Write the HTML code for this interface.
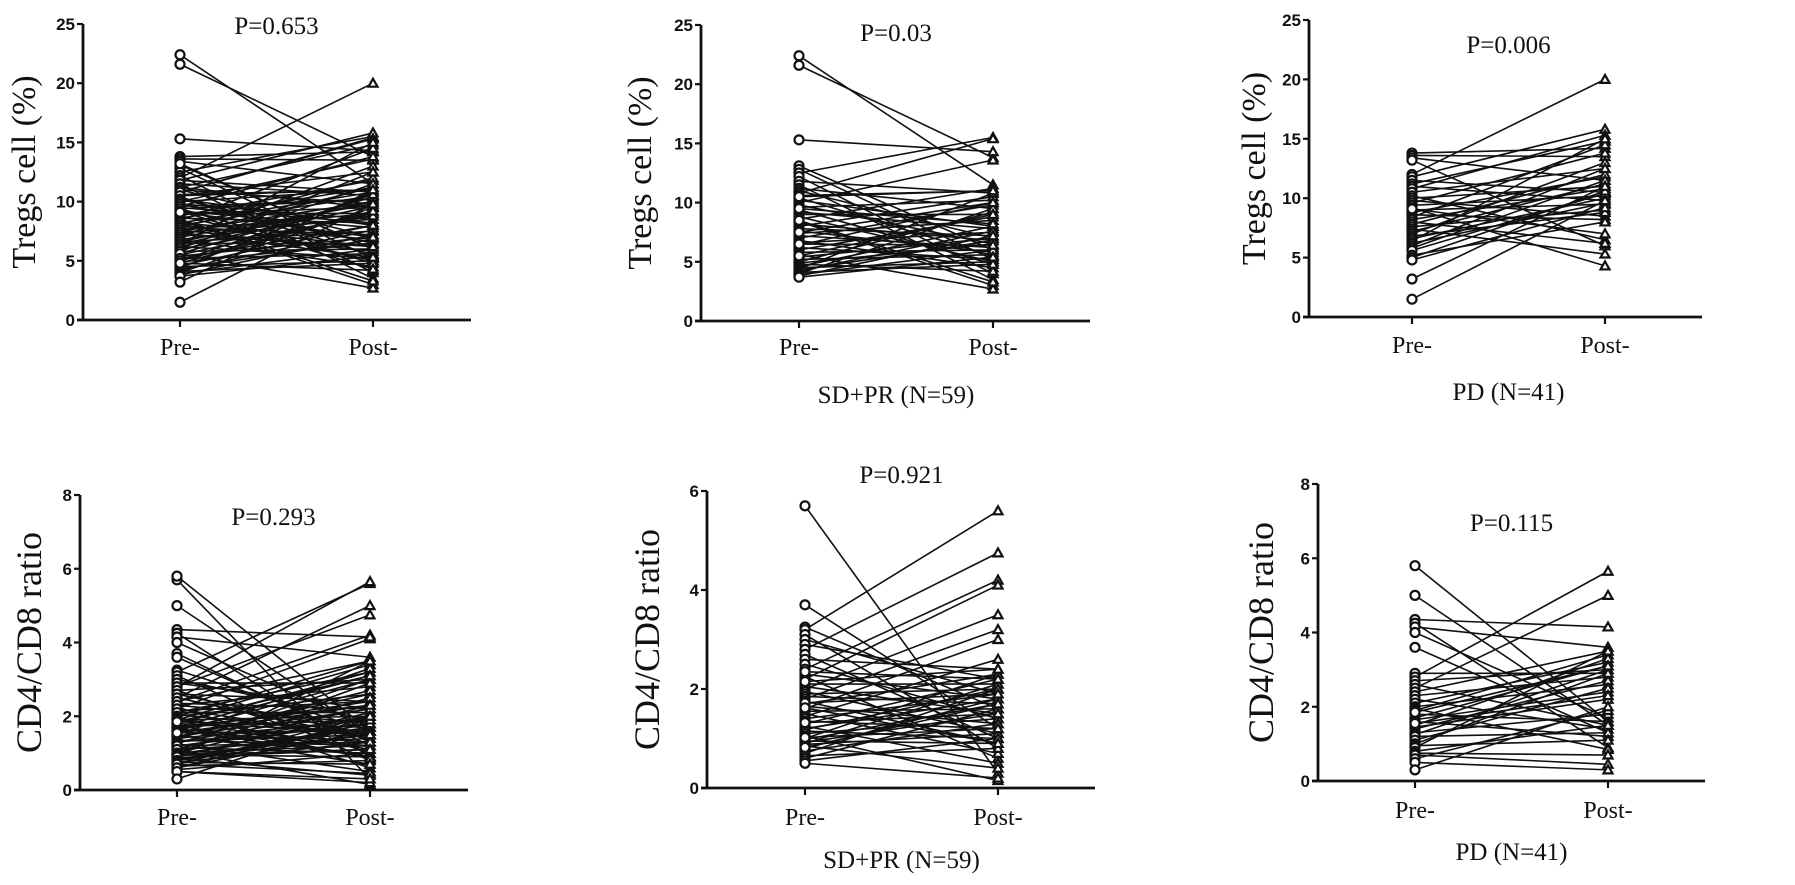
<!DOCTYPE html>
<html><head><meta charset="utf-8">
<style>
html,body{margin:0;padding:0;background:#fff;}
svg{display:block;}
.tick{font-family:"Liberation Sans",sans-serif;font-weight:bold;font-size:17px;fill:#111;}
.ser{font-family:"Liberation Serif",serif;fill:#111;}
</style></head>
<body>
<svg id="fig" width="1795" height="885" viewBox="0 0 1795 885" xmlns="http://www.w3.org/2000/svg"></svg>
<script>
// ---- data ----
const groupCategories = ["Pre-", "Post-"];
const tregsTicks = [0, 5, 10, 15, 20, 25];
const ratioTicks8 = [0, 2, 4, 6, 8];
const ratioTicks6 = [0, 2, 4, 6];
const pValues = ["P=0.653", "P=0.03", "P=0.006", "P=0.293", "P=0.921", "P=0.115"];
const groupLabels = ["", "SD+PR (N=59)", "PD (N=41)", "", "SD+PR (N=59)", "PD (N=41)"];

const tregsPreSDPR = [22.4,21.6,15.3,13.1,12.8,12.5,12.2,11.8,11.5,11.2,
11.0,10.8,10.6,10.4,10.2,10.0,9.8,9.6,9.4,9.2,
9.0,8.8,8.6,8.4,8.2,8.0,7.8,7.6,7.4,7.2,
7.0,6.8,6.6,6.4,6.2,6.0,5.8,5.6,5.4,5.2,
5.0,4.9,4.8,4.6,4.5,4.4,4.3,4.2,4.1,4.0,
3.9,3.8,3.7,10.5,9.5,8.5,7.5,6.5,5.5];
const tregsPostSDPR = [11.5,13.8,14.3,6.0,5.2,15.5,4.0,10.8,3.5,9.5,
7.0,15.4,11.0,5.5,8.0,13.6,6.5,10.2,4.8,7.8,
9.0,5.0,11.2,3.0,6.8,10.5,7.2,5.8,8.5,6.2,
9.8,4.5,7.5,10.0,5.2,8.8,6.0,2.7,7.0,5.6,
9.2,6.5,4.2,8.0,5.0,10.8,6.8,7.6,4.8,9.5,
6.0,7.2,5.4,11.0,8.2,3.3,10.0,6.4,9.0];
const tregsPrePD = [13.8,13.6,13.4,13.2,12.0,11.8,11.5,11.2,11.0,10.8,
10.5,10.2,10.0,9.8,9.6,9.4,9.2,9.0,8.8,8.6,
8.4,8.2,8.0,7.8,7.6,7.4,7.2,7.0,6.8,6.6,
6.4,6.2,6.0,5.8,5.6,5.2,5.0,4.8,3.2,1.5,9.1];
const tregsPostPD = [14.2,13.5,11.5,6.0,20.0,15.8,10.5,14.8,9.8,15.3,
12.5,6.5,11.0,8.5,13.8,10.2,4.3,9.5,11.8,8.2,
14.5,10.8,6.2,12.0,9.0,5.3,11.2,13.0,8.8,10.0,
15.0,9.6,12.5,11.5,10.4,8.0,10.6,9.2,11.0,9.8,7.0];
const ratioPreSDPR = [5.7,3.7,3.25,3.2,3.1,3.0,2.9,2.8,2.7,2.6,
2.5,2.4,2.3,2.25,2.2,2.1,2.05,2.0,1.95,1.9,
1.85,1.8,1.75,1.7,1.65,1.6,1.55,1.5,1.45,1.4,
1.35,1.3,1.25,1.2,1.18,1.15,1.1,1.05,1.0,0.98,
0.95,0.92,0.9,0.88,0.85,0.8,0.75,0.7,0.65,0.6,
0.55,0.5,2.15,1.72,1.32,1.02,0.82,2.35,1.62];
const ratioPostSDPR = [0.3,1.2,1.6,5.6,0.8,1.9,2.2,4.75,1.0,2.4,
1.4,4.2,1.8,0.6,4.1,2.1,1.5,3.5,1.1,2.0,
1.7,3.2,0.9,2.3,1.3,3.0,1.6,0.7,2.6,1.9,
1.2,2.2,0.5,1.8,2.0,1.0,1.4,0.15,2.3,1.7,
0.9,1.5,2.1,1.1,0.4,1.8,1.3,2.0,0.8,1.6,
1.0,0.2,2.4,1.9,1.5,1.2,1.7,2.2,0.9];
const ratioPrePD = [5.8,5.0,4.35,4.25,4.15,4.0,3.6,2.9,2.8,2.7,
2.6,2.5,2.4,2.3,2.2,2.1,2.0,1.95,1.9,1.8,
1.7,1.65,1.6,1.5,1.45,1.4,1.3,1.25,1.2,1.1,
1.0,0.95,0.9,0.8,0.75,0.7,0.6,0.5,0.3,1.55,1.85];
const ratioPostPD = [1.6,1.5,4.15,0.9,3.6,1.7,1.3,2.9,5.65,3.0,
1.5,5.0,3.5,2.8,1.4,3.2,2.6,0.85,3.4,1.6,
3.1,2.4,1.2,3.3,2.2,2.7,1.8,3.0,1.3,2.5,
2.9,1.1,3.5,1.5,0.7,0.45,1.9,0.3,2.0,2.3,3.1];

// ---- layout ----
const panels = [
 {ax:83, top:24, bot:320, xEnd:471, xPre:180, xPost:373, max:25, ticks:tregsTicks, title:"Tregs cell (%)", tfs:34, tx:24, pre:tregsPreSDPR.concat(tregsPrePD), post:tregsPostSDPR.concat(tregsPostPD), py:34, ly:355, gy:402},
 {ax:701, top:25, bot:321, xEnd:1090, xPre:799, xPost:993, max:25, ticks:tregsTicks, title:"Tregs cell (%)", tfs:34, tx:640, pre:tregsPreSDPR, post:tregsPostSDPR, py:41, ly:355, gy:403},
 {ax:1309, top:20, bot:317, xEnd:1702, xPre:1412, xPost:1605, max:25, ticks:tregsTicks, title:"Tregs cell (%)", tfs:34, tx:1254, pre:tregsPrePD, post:tregsPostPD, py:53, ly:353, gy:400},
 {ax:80, top:495, bot:790, xEnd:468, xPre:177, xPost:370, max:8, ticks:ratioTicks8, title:"CD4/CD8 ratio", tfs:36, tx:30, pre:ratioPreSDPR.concat(ratioPrePD), post:ratioPostSDPR.concat(ratioPostPD), py:525, ly:825, gy:868},
 {ax:707, top:491, bot:788, xEnd:1095, xPre:805, xPost:998, max:6, ticks:ratioTicks6, title:"CD4/CD8 ratio", tfs:36, tx:648, pre:ratioPreSDPR, post:ratioPostSDPR, py:483, ly:825, gy:868},
 {ax:1318, top:484, bot:781, xEnd:1705, xPre:1415, xPost:1608, max:8, ticks:ratioTicks8, title:"CD4/CD8 ratio", tfs:36, tx:1262, pre:ratioPrePD, post:ratioPostPD, py:531, ly:818, gy:860}
];
const NS = "http://www.w3.org/2000/svg";
const svg = document.getElementById("fig");
function mk(tag, attrs, parent){
  const e = document.createElementNS(NS, tag);
  for (const k in attrs) e.setAttribute(k, attrs[k]);
  parent.appendChild(e); return e;
}
panels.forEach((p, i) => {
  const g = mk("g", {}, svg);
  
  
  const y = v => p.bot - (v / p.max) * (p.bot - p.top);
  const xs = [p.xPre, p.xPost];
  const lg = mk("g", {stroke:"#111", "stroke-width":"1.6", fill:"none"}, g);
  
  
  for (let k = 0; k < Math.min(p.pre.length, p.post.length); k++) {
    const l = mk("line", {x1:xs[0], y1:y(p.pre[k]), x2:xs[1], y2:y(p.post[k])}, lg);
    
    
  }
  const mg = mk("g", {stroke:"#111", "stroke-width":"2.2", fill:"#fff"}, g);
  p.pre.forEach(v => {
    const c = mk("circle", {cx:xs[0], cy:y(v), r:4.5}, mg);
    
    
  });
  p.post.forEach(v => {
    const cy = y(v), cx = xs[1];
    const t = mk("polygon", {points:`${cx},${cy-4.5} ${cx-4.5},${cy+3.5} ${cx+4.5},${cy+3.5}`}, mg);
    
    
  });
  const ya = mk("line", {x1:p.ax, y1:p.top, x2:p.ax, y2:p.bot+1, stroke:"#111", "stroke-width":"2.8"}, g);
  
  
  const xa = mk("line", {x1:p.ax-6, y1:p.bot, x2:p.xEnd, y2:p.bot, stroke:"#111", "stroke-width":"2.8"}, g);
  
  
  p.ticks.forEach(t => {
    mk("line", {x1:p.ax-6, y1:y(t), x2:p.ax, y2:y(t), stroke:"#111", "stroke-width":"2.2"}, g);
    const tl = mk("text", {x:p.ax-8, y:y(t)+6, "text-anchor":"end", class:"tick"}, g);
    tl.textContent = t;
    
    
  });
  groupCategories.forEach((c, j) => {
    mk("line", {x1:xs[j], y1:p.bot, x2:xs[j], y2:p.bot+7, stroke:"#111", "stroke-width":"2.2"}, g);
    const xl = mk("text", {x:xs[j], y:p.ly, "text-anchor":"middle", class:"ser", "font-size":"24"}, g);
    xl.textContent = c;
    
    
  });
  const yt = mk("text", {x:0, y:0, "text-anchor":"middle", class:"ser", "font-size":p.tfs, transform:`translate(${p.tx+11},${(p.top+p.bot)/2}) rotate(-90)`}, g);
  yt.textContent = p.title;
  
  
  const pv = mk("text", {x:(p.xPre+p.xPost)/2, y:p.py, "text-anchor":"middle", class:"ser", "font-size":"25"}, g);
  pv.textContent = pValues[i];
  
  
  if (groupLabels[i]) {
    const gl = mk("text", {x:(p.xPre+p.xPost)/2, y:p.gy, "text-anchor":"middle", class:"ser", "font-size":"25"}, g);
    gl.textContent = groupLabels[i];
    
    
  }
});
</script>
</body></html>
